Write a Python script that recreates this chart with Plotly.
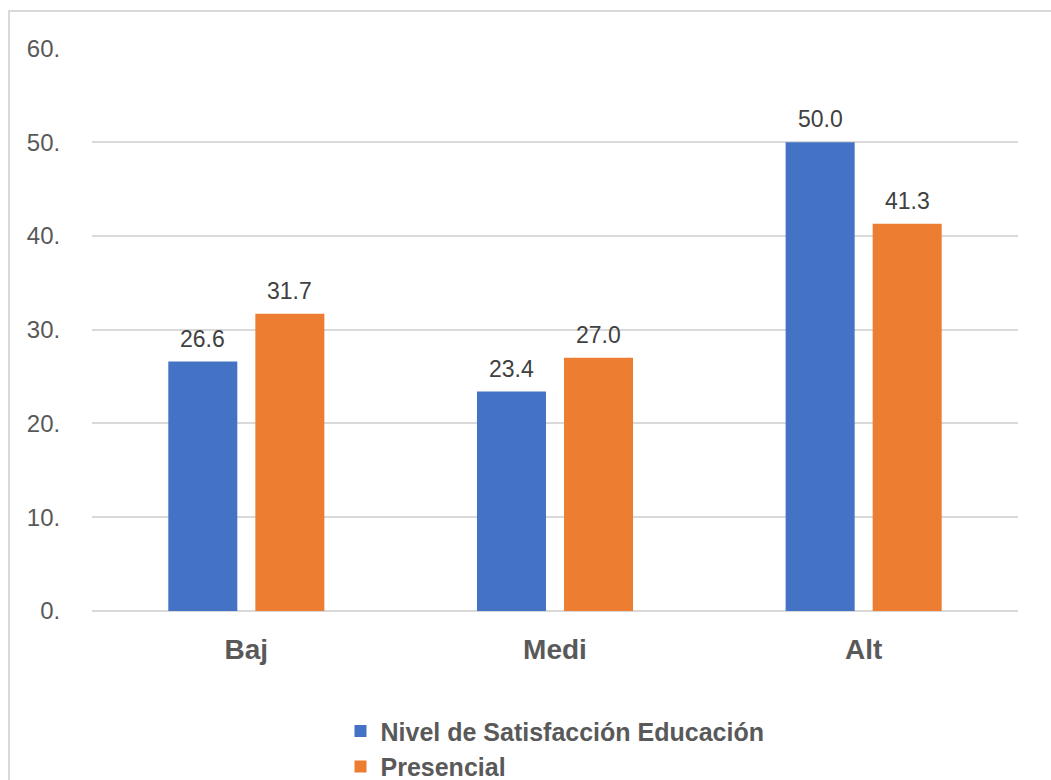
import plotly.graph_objects as go

categories = ["Baj", "Medi", "Alt"]
series_names = ["Nivel de Satisfacción Educación", "Presencial"]
values_blue = [26.6, 23.4, 50.0]
values_orange = [31.7, 27.0, 41.3]
tick_vals = [0, 10, 20, 30, 40, 50, 60]
tick_text = ["0.", "10.", "20.", "30.", "40.", "50.", "60."]

colors = ["#4472C4", "#ED7D31"]
FONT = "Liberation Sans, Arial, sans-serif"
BARGAP = 0.436

fig = go.Figure()
all_vals = [values_blue, values_orange]
for name, vals, col in zip(series_names, all_vals, colors):
    fig.add_trace(go.Bar(
        x=categories, y=vals, name=name, marker=dict(color=col, line=dict(width=0)),
    ))

# data labels above each bar (positions from data values on the category axis)
n = len(all_vals)
slot = (1 - BARGAP) / n
annotations = []
for k, vals in enumerate(all_vals):
    off = -(1 - BARGAP) / 2 + slot * (k + 0.5)
    for i, v in enumerate(vals):
        annotations.append(dict(x=i + off, y=v, xref="x", yref="y", text=f"{v:.1f}",
                                showarrow=False, yanchor="bottom", yshift=8,
                                font=dict(family=FONT, size=23, color="#404040")))

fig.update_layout(
    width=1051, height=780,
    margin=dict(l=92, r=33, t=48, b=169),
    paper_bgcolor="white", plot_bgcolor="white",
    barmode="group", bargap=BARGAP, bargroupgap=0.207,
    font=dict(family=FONT, color="#595959"),
    showlegend=True,
    legend=dict(orientation="v", x=0.5, xanchor="center", yref="container", y=0.092, yanchor="top",
                font=dict(family=FONT, size=25, color="#595959", weight="bold"),
                itemwidth=30, tracegroupgap=0),
    annotations=annotations,
    xaxis=dict(showgrid=False, showline=False, ticks="outside", ticklen=13, tickcolor="rgba(0,0,0,0)",
               tickfont=dict(family=FONT, size=28, color="#595959", weight="bold")),
    yaxis=dict(range=[0, 60.05], tickvals=tick_vals, ticktext=tick_text, showgrid=True,
               gridcolor="#d9d9d9", gridwidth=1.5, zeroline=True, zerolinecolor="#d9d9d9",
               zerolinewidth=1.5, showline=False, ticks="outside", ticklen=26,
               tickcolor="rgba(0,0,0,0)",
               tickfont=dict(family=FONT, size=24, color="#595959")),
    shapes=[dict(type="rect", xref="paper", yref="paper", x0=-0.0896, x1=1.2, y0=-0.5, y1=1.0657,
                 line=dict(color="#d9d9d9", width=2), fillcolor="rgba(0,0,0,0)", layer="below")],
)

fig.write_html("out.html")
